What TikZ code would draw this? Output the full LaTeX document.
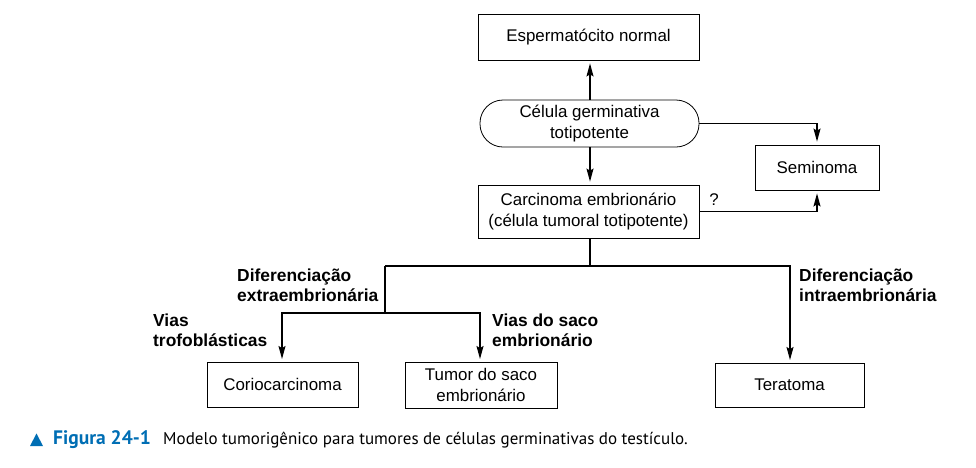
\documentclass[tikz,border=0pt]{standalone}
\usepackage{fontspec}
\setmainfont{Liberation Sans}
\newfontfamily\capfont{PT Sans}
\usetikzlibrary{arrows.meta}
\definecolor{capblue}{RGB}{0,110,180}

\begin{document}
\begin{tikzpicture}[x=1pt,y=-1pt,
    box/.style={draw, line width=0.8pt, inner sep=0pt, align=center,
        font=\fontsize{16.9}{20.5}\selectfont},
    lbl/.style={anchor=west, inner sep=0pt, align=left,
        font=\fontsize{17.4}{20}\selectfont\bfseries},
    conn/.style={line width=1.3pt},
    arr/.style={conn, -{Stealth[length=13pt,width=7pt,inset=2pt]}, shorten >=3pt}]
    \useasboundingbox (0,0) rectangle (976,467);

    \node [box, minimum width=221pt, minimum height=46pt] (esp) at (588.5,37) {Espermatócito normal};
    \node [box, minimum width=219pt, minimum height=47pt, rounded corners=23pt] (cel) at (589.5,123.5) {Célula germinativa\\totipotente};
    \node [box, minimum width=124pt, minimum height=45pt] (sem) at (817,167.5) {Seminoma};
    \node [box, minimum width=221pt, minimum height=53pt] (carc) at (588.5,211.5) {Carcinoma embrionário\\(célula tumoral totipotente)};
    \node [box, minimum width=151pt, minimum height=45pt] (corio) at (282.5,384.5) {Coriocarcinoma};
    \node [box, minimum width=152pt, minimum height=46pt] (tumor) at (481,385) {Tumor do saco\\embrionário};
    \node [box, minimum width=149pt, minimum height=44pt] (terat) at (789.5,385) {Teratoma};

    \coordinate (split) at (590,266);
    \coordinate (extra) at (385,266);
    \coordinate (sub) at (385,313);
    \coordinate (corioin) at (282,362);
    \coordinate (tumorin) at (480,362);
    \coordinate (teratin) at (790,363);

    \draw [arr] (cel.north -| split) -- (esp.south -| split);
    \draw [arr] (cel.south -| split) -- (carc.north -| split);
    \draw [arr] (cel.east) -| (sem.north);
    \draw [arr] (carc.east) -| (sem.south);
    \draw [conn] (carc.south -| split) -- (split);
    \draw [arr] (extra) -| (teratin);
    \draw [conn] (extra) -- (sub);
    \draw [arr] (sub) -| (corioin);
    \draw [arr] (sub) -| (tumorin);

    \node [font=\fontsize{16.9}{20.5}\selectfont, inner sep=0pt] (quest) at (714,200) {?};

    \node [lbl] (difextra) at (237,285) {Diferenciação\\extraembrionária};
    \node [lbl] (viastrof) at (153,330) {Vias\\trofoblásticas};
    \node [lbl] (viassaco) at (492,330) {Vias do saco\\embrionário};
    \node [lbl] (difintra) at (799,285) {Diferenciação\\intraembrionária};

    \fill [capblue] (30,446) -- (43,446) -- (36.5,433.5) -- cycle;
    \node [anchor=west, inner sep=0pt, text=capblue, font=\capfont\fontsize{19.5}{20}\selectfont\bfseries] (fignum) at (53,440) {Figura 24-1};
    \node [anchor=west, inner sep=0pt, font=\capfont\fontsize{17}{20}\selectfont] (caption) at (163,440) {Modelo tumorigênico para tumores de células germinativas do testículo.};
\end{tikzpicture}
\end{document}
